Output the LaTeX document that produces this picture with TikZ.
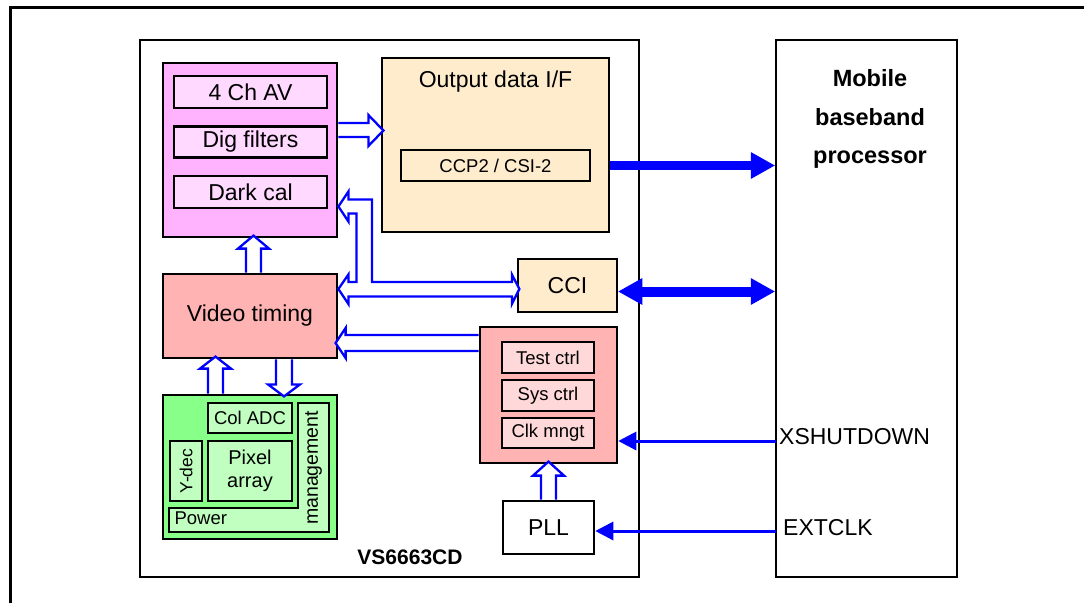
\documentclass[tikz,border=0pt]{standalone}
\usepackage{fontspec}
\setmainfont{Liberation Sans}
\usetikzlibrary{arrows.meta,calc}
\definecolor{magbg}{RGB}{255,179,255}
\definecolor{magin}{RGB}{255,217,255}
\definecolor{beige}{RGB}{255,236,204}
\definecolor{pinkbg}{RGB}{255,179,179}
\definecolor{pinkin}{RGB}{255,217,217}
\definecolor{grnbg}{RGB}{136,255,136}
\definecolor{grnin}{RGB}{192,255,192}
\definecolor{arrblue}{RGB}{0,0,255}
\begin{document}
\begin{tikzpicture}[x=1pt,y=-1pt,
  box/.style={draw=black, line width=2.8pt, inner sep=0pt, align=center},
  bigtxt/.style={font=\fontsize{23}{27}\selectfont},
  smalltxt/.style={font=\fontsize{18.5}{22}\selectfont},
  hollow/.style={draw=arrblue, line width=2.3pt, fill=white, line join=miter},
  fat/.style={draw=arrblue, line width=9pt, -{Triangle[length=24pt,width=27pt,line width=0pt]}},
  fatboth/.style={draw=arrblue, line width=10pt, {Triangle[length=24pt,width=27pt,line width=0pt]}-{Triangle[length=24pt,width=27pt,line width=0pt]}},
  thin/.style={draw=arrblue, line width=3pt, -{Triangle[length=18pt,width=19pt,line width=0pt]}}
]
\useasboundingbox (0,0) rectangle (1084,603);
% outer frame
\draw[line width=3pt] (10,603) -- (10,7) -- (1084,7);
% main boxes
\node[box, line width=2.5pt, minimum width=499pt, minimum height=537pt] (vs) at (389.5,308.5) {};
\node[font=\fontsize{21}{25}\selectfont\bfseries] (vslbl) at (410,557) {VS6663CD};
\node[box, line width=2.5pt, minimum width=181pt, minimum height=537pt] (mob) at (866.5,308.5) {};
\node[font=\fontsize{23.5}{38.5}\selectfont\bfseries, align=center] (moblbl) at (870,119) {Mobile\\baseband\\processor};
% magenta block
\node[box, fill=magbg, minimum width=174pt, minimum height=174pt] (mag) at (250,150) {};
\node[box, bigtxt, fill=magin, minimum width=153pt, minimum height=32pt] (av) at (250.5,92) {4 Ch AV};
\node[box, bigtxt, fill=magin, minimum width=153pt, minimum height=31pt] (dig) at (250.5,142) {Dig filters};
\node[box, bigtxt, fill=magin, minimum width=153pt, minimum height=32pt] (dark) at (250.5,192) {Dark cal};
% output block
\node[box, fill=beige, minimum width=227pt, minimum height=174pt] (out) at (495.5,145) {};
\node[bigtxt] (outlbl) at (495.5,82) {Output data I/F};
\node[box, smalltxt, fill=beige, minimum width=189pt, minimum height=31pt] (ccp) at (495.5,165.5) {CCP2 / CSI-2};
% video timing
\node[box, bigtxt, fill=pinkbg, minimum width=174pt, minimum height=84pt] (vt) at (250,316) {Video timing};
% green block
\node[box, fill=grnbg, minimum width=174pt, minimum height=144pt] (grn) at (250,467) {};
\node[box, smalltxt, fill=grnin, minimum width=84pt, minimum height=30pt] (col) at (250,418) {Col ADC};
\node[box, fill=grnin, minimum width=32pt, minimum height=60pt] (ydec) at (186,471) {};
\node[font=\fontsize{17.5}{20}\selectfont, rotate=90] (ydeclbl) at (ydec) {Y-dec};
\node[box, fill=grnin, font=\fontsize{20}{23}\selectfont, minimum width=84pt, minimum height=60pt] (pix) at (250,471) {Pixel\\array};
\draw[line width=2.8pt, fill=grnin, line join=miter] (169,508) -- (298,508) -- (298,403) -- (329,403) -- (329,532) -- (169,532) -- cycle;
\node[smalltxt, anchor=west] (pwr) at (171,518) {Power};
\node[font=\fontsize{19.5}{22}\selectfont, rotate=90] (mgmt) at (313.5,468) {management};
% CCI
\node[box, bigtxt, fill=beige, minimum width=99pt, minimum height=53pt] (cci) at (567.5,285.5) {CCI};
% system block
\node[box, fill=pinkbg, minimum width=137pt, minimum height=136pt] (sys) at (548.5,395) {};
\node[box, smalltxt, fill=pinkin, minimum width=92pt, minimum height=31pt] (test) at (548,357.5) {Test ctrl};
\node[box, smalltxt, fill=pinkin, minimum width=92pt, minimum height=31pt] (sysc) at (548,395.5) {Sys ctrl};
\node[box, smalltxt, fill=pinkin, minimum width=92pt, minimum height=30pt] (clk) at (548,433) {Clk mngt};
% PLL
\node[box, bigtxt, fill=white, minimum width=91pt, minimum height=53pt] (pll) at (548.5,527.5) {PLL};
% pin labels
\coordinate (xs) at (776,441);
\coordinate (ec) at (776,531);
\node[bigtxt, anchor=west, inner sep=0pt] (xslbl) at (779,437) {XSHUTDOWN};
\node[bigtxt, anchor=west, inner sep=0pt] (eclbl) at (783,528) {EXTCLK};

% hollow arrows
\draw[hollow] ($(mag.east)+(0,-27)$) -- ++(30,0) -- ++(0,-8) -- ++(15,15.5) -- ++(-15,15.5) -- ++(0,-9) -- ++(-30,0);
\draw[hollow] ($(vt.north)+(-4,0)$) -- ++(0,-24) -- ++(-8,0) -- ++(15.5,-13) -- ++(15.5,13) -- ++(-8,0) -- ++(0,24);
\draw[hollow] ($(grn.north)+(-42,0)$) -- ++(0,-25) -- ++(-8,0) -- ++(15.5,-12) -- ++(15.5,12) -- ++(-8,0) -- ++(0,25);
\draw[hollow] ($(vt.south)+(26,0)$) -- ++(0,25) -- ++(-8,0) -- ++(16,12) -- ++(16,-12) -- ++(-8,0) -- ++(0,-25);
\draw[hollow] ($(sys.west)+(0,-60)$) -- ++(-133,0) -- ++(0,-7) -- ++(-10,15) -- ++(10,15) -- ++(0,-7) -- ++(133,0);
\draw[hollow] ($(pll.north)+(-7.5,0)$) -- ++(0,-24) -- ++(-8,0) -- ++(15.5,-14) -- ++(15.5,14) -- ++(-8,0) -- ++(0,24);
% T-shaped hollow arrow: video timing / dark cal <-> CCI
\draw[hollow] ($(vt.east)+(0,-27)$) -- ++(10,-14.5) -- ++(0,7.5) -- ++(8,0) -- ++(0,-68.5)
  -- ++(-8,0) -- ++(0,8) -- ++(-10,-15) -- ++(10,-15) -- ++(0,8) -- ++(23.5,0) -- ++(0,82.5)
  -- ++(140,0) -- ++(0,-7.5) -- ++(7.5,14.5) -- ++(-7.5,15) -- ++(0,-7.5) -- ++(-163.5,0)
  -- ++(0,7.5) -- cycle;

% filled arrows
\draw[fat] (ccp.east -| out.east) -- (ccp.east -| mob.west);
\draw[fatboth] ($(cci.east)+(0,6)$) -- ($(cci.east -| mob.west)+(0,6)$);
\draw[thin] (xs) -- (xs -| sys.east);
\draw[thin] (ec) -- (ec -| pll.east);
\end{tikzpicture}
\end{document}
